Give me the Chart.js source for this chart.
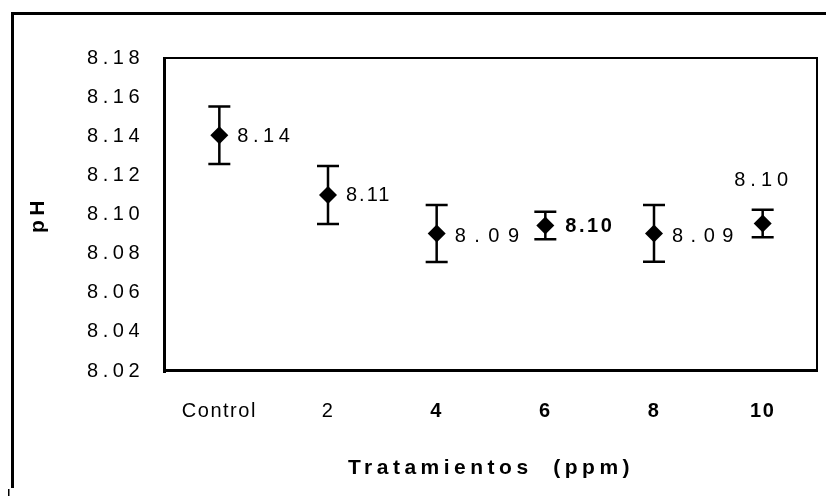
<!DOCTYPE html>
<html>
<head>
<meta charset="utf-8">
<script src="https://cdn.jsdelivr.net/npm/chart.js@4.4.1/dist/chart.umd.min.js"></script>
<style>
  body { margin: 0; background: #fff; }
  canvas { display: block; }
</style>
</head>
<body>
<canvas id="myChart" width="826" height="496"></canvas>
<script>
// datos
const categories = ['Control', '2', '4', '6', '8', '10'];
const phMeans = [8.1405, 8.110, 8.0903, 8.0944, 8.0903, 8.0954];
const phErrors = [0.0147, 0.0148, 0.0146, 0.0070, 0.0145, 0.0070];
const pointLabels = ['8.14', '8.11', '8.09', '8.10', '8.09', '8.10'];
const yTickValues = [8.02, 8.04, 8.06, 8.08, 8.10, 8.12, 8.14, 8.16, 8.18];

// estilo de las etiquetas de cada punto
const labelSide = ['right', 'right', 'right', 'right', 'right', 'top'];
const labelSpacing = [4.5, 2, 8.5, 2.5, 7.5, 5];
const labelBold = [false, false, false, true, false, false];

const FONT = "'Liberation Sans', Arial, sans-serif";

// marco exterior + espaciado de letras para titulos y ticks del eje y
const frame = {
    id: 'frame',
    beforeDraw(chart) {
        const ctx = chart.ctx;
        ctx.save();
        ctx.fillStyle = '#000';
        ctx.fillRect(11, 12, 815, 3);
        ctx.fillRect(11, 12, 3, 476);
        ctx.fillRect(8, 489, 1.5, 7);
        ctx.restore();
        ctx.letterSpacing = '4.5px';
    },
    afterDatasetsDraw(chart) {
        // ticks del eje x se dibujan despues (z: 1)
        chart.ctx.letterSpacing = '1.5px';
    }
};

const errorBars = {
    id: 'errorBars',
    beforeDatasetsDraw(chart) {
        const { ctx, scales: { y } } = chart;
        const pts = chart.getDatasetMeta(0).data;
        ctx.save();
        ctx.strokeStyle = '#000';
        ctx.lineWidth = 2.5;
        pts.forEach((p, i) => {
            const top = y.getPixelForValue(phMeans[i] + phErrors[i]);
            const bot = y.getPixelForValue(phMeans[i] - phErrors[i]);
            ctx.beginPath();
            ctx.moveTo(p.x, top); ctx.lineTo(p.x, bot);
            ctx.moveTo(p.x - 11, top); ctx.lineTo(p.x + 11, top);
            ctx.moveTo(p.x - 11, bot); ctx.lineTo(p.x + 11, bot);
            ctx.stroke();
        });
        ctx.restore();
    }
};

const plotBox = {
    id: 'plotBox',
    afterDraw(chart) {
        const { ctx, chartArea: a } = chart;
        ctx.save();
        ctx.fillStyle = '#000';
        ctx.fillRect(a.left - 2, a.top - 1, a.right - a.left + 3, 2);
        ctx.fillRect(a.right - 1, a.top - 1, 2, a.bottom - a.top + 2);
        ctx.fillRect(a.left - 2, a.top - 1, 3, a.bottom - a.top + 3);
        ctx.fillRect(a.left - 2, a.bottom - 2, a.right - a.left + 3, 3);

        // etiquetas de valor
        const pts = chart.getDatasetMeta(0).data;
        ctx.textBaseline = 'middle';
        pts.forEach((p, i) => {
            ctx.letterSpacing = labelSpacing[i] + 'px';
            ctx.font = (labelBold[i] ? 'bold 20px ' : '20px ') + FONT;
            if (labelSide[i] === 'top') {
                ctx.textAlign = 'center';
                ctx.fillText(pointLabels[i], p.x + 1, p.y - 43);
            } else {
                ctx.textAlign = 'left';
                ctx.fillText(pointLabels[i], p.x + (labelBold[i] ? 20 : 18), p.y + (labelSpacing[i] > 7 ? 3 : 1));
            }
        });
        ctx.restore();
    }
};

new Chart(document.getElementById('myChart'), {
    type: 'line',
    data: {
        labels: categories,
        datasets: [{
            data: phMeans,
            showLine: false,
            pointStyle: 'rectRot',
            pointRadius: 9,
            pointHoverRadius: 9,
            backgroundColor: '#000',
            borderColor: '#000',
            borderWidth: 0
        }]
    },
    options: {
        responsive: false,
        animation: false,
        devicePixelRatio: 1,
        layout: { padding: { top: 58, right: 8, bottom: 0, left: 0 } },
        plugins: { legend: { display: false }, tooltip: { enabled: false } },
        scales: {
            x: {
                offset: true,
                grid: { display: false, drawTicks: false },
                border: { display: false },
                ticks: {
                    color: '#000',
                    padding: 28,
                    z: 1,
                    font: c => ({ family: FONT, size: 20, weight: c.index >= 2 ? 'bold' : 'normal' })
                },
                title: {
                    display: true,
                    text: 'Tratamientos  (ppm)',
                    color: '#000',
                    font: { family: FONT, size: 21, weight: 'bold' },
                    padding: { top: 0, bottom: 15 }
                },
                afterFit: s => { s.height = 125; }
            },
            y: {
                min: 8.02,
                max: 8.18,
                afterBuildTicks: s => { s.ticks = yTickValues.map(value => ({ value })); },
                grid: { display: false, drawTicks: false },
                border: { display: false },
                ticks: {
                    color: '#000',
                    padding: 21,
                    font: { family: FONT, size: 20 },
                    callback: v => v.toFixed(2)
                },
                title: {
                    display: true,
                    text: 'pH',
                    color: '#000',
                    font: { family: FONT, size: 21, weight: 'bold' },
                    padding: { top: 26, bottom: 0 }
                },
                afterFit: s => { s.width = 165; }
            }
        }
    },
    plugins: [frame, errorBars, plotBox]
});
</script>
</body>
</html>
